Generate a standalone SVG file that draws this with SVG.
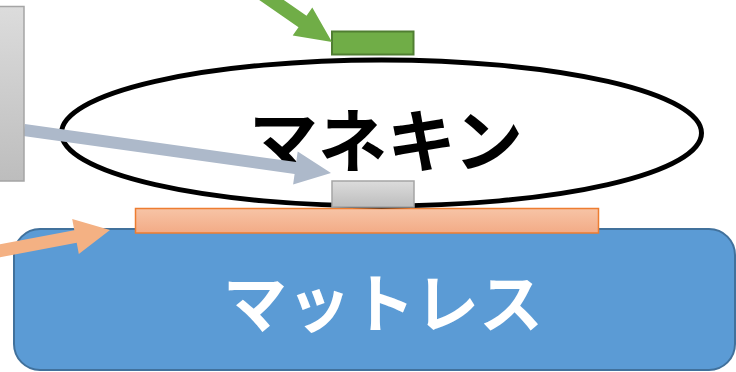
<svg xmlns="http://www.w3.org/2000/svg" width="736" height="372" viewBox="0 0 736 372">
<defs>
<linearGradient id="gGray" x1="0" y1="0" x2="0" y2="1"><stop offset="0" stop-color="#dcdcdc"/><stop offset="1" stop-color="#bdbdbd"/></linearGradient>
<linearGradient id="gOrange" x1="0" y1="0" x2="0" y2="1"><stop offset="0" stop-color="#f7c4a6"/><stop offset="1" stop-color="#f3ab86"/></linearGradient>
</defs>
<style>
.lbl{font-family:"Noto Sans CJK JP","Noto Sans",sans-serif;font-weight:bold;text-anchor:middle}
.gray{fill:url(#gGray);stroke:#a5a5a5;stroke-width:1.5}
</style>
<g id="mattress">
<rect x="14" y="229" width="721" height="141" rx="26" fill="#5b9bd5" stroke="#41719c" stroke-width="2"/>
<text class="lbl" x="383" y="327" font-size="64" fill="#ffffff">マットレス</text>
</g>
<g id="pad">
<rect x="135.5" y="208.5" width="463" height="24.5" fill="url(#gOrange)" stroke="#ed7d31" stroke-width="1.5"/>
</g>
<g id="mannequin">
<ellipse cx="381.5" cy="133" rx="320" ry="73" fill="#ffffff" stroke="#000000" stroke-width="5"/>
<text class="lbl" x="386" y="167" font-size="69" fill="#000000">マネキン</text>
</g>
<g id="sensor">
<rect x="332" y="181" width="82" height="26" class="gray"/>
</g>
<g id="green-block">
<rect x="332" y="31.5" width="81.5" height="23" fill="#70ad47" stroke="#507e32" stroke-width="2"/>
</g>
<g id="connectors">
<polygon fill="#adb9ca" points="24.8,124.1 296.2,162.1 297.7,151.4 331,173 293.1,184.6 294.6,173.9 23.2,135.9"/>
<polygon fill="#70ad47" points="257.2,-18.45 306.5,15.75 312.3,7.45 332,42 292.7,35.5 298.5,27.25 249.2,-6.95"/>
<polygon fill="#f4b183" points="-14.2,246.9 74.3,230.2 72.2,219 110,230 78.8,254 76.7,242.8 -11.8,259.5"/>
</g>
<g id="panel">
<rect x="-10" y="6.5" width="34" height="174.5" class="gray"/>
</g>
</svg>
